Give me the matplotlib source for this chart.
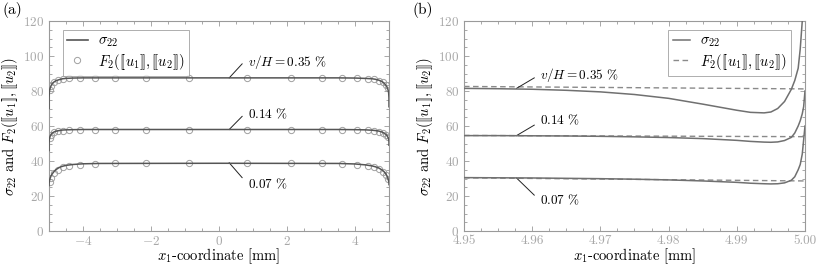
import matplotlib
matplotlib.use("Agg")
import matplotlib.pyplot as plt
from matplotlib.ticker import MultipleLocator, FormatStrFormatter
from matplotlib.lines import Line2D

plt.rcParams['font.family'] = 'serif'
plt.rcParams['font.serif'] = ['cmr10', 'DejaVu Serif']
plt.rcParams['mathtext.fontset'] = 'cm'
plt.rcParams['axes.formatter.use_mathtext'] = True

# ---------------- data panel (a) ----------------
xa = [-5, -4.999, -4.99, -4.97, -4.94, -4.9, -4.85, -4.8, -4.7, -4.6, -4.5, -4.3, -4.0, -3.5,
      0, 3.5, 4.0, 4.3, 4.5, 4.6, 4.7, 4.8, 4.85, 4.9, 4.94, 4.97, 4.99, 4.999, 5.0]
sig_a_035 = [70, 76, 79.5, 81.5, 83, 84.3, 85.2, 85.8, 86.5, 87, 87.2, 87.4, 87.5, 87.5,
             87.5, 87.5, 87.4, 87.2, 87.0, 86.7, 86.2, 85.3, 84.6, 83.5, 82.3, 80.8, 79, 76, 71]
sig_a_014 = [46, 50, 52.5, 54, 55.2, 56, 56.6, 57, 57.4, 57.7, 57.8, 57.9, 58, 58,
             58, 58, 57.9, 57.8, 57.6, 57.4, 57.1, 56.5, 56.0, 55.3, 54.5, 53.5, 52.5, 51, 49]
sig_a_007 = [26, 27, 28.5, 30, 31.5, 32.8, 34, 35, 36.3, 37, 37.5, 38, 38.4, 38.6,
             38.7, 38.6, 38.3, 37.8, 37.2, 36.7, 36.0, 34.8, 34.0, 32.8, 31.5, 30, 28.6, 27.5, 26.5]

xc = [-4.98, -4.93, -4.85, -4.74, -4.6, -4.4, -4.1, -3.66, -3.05, -2.15, -0.87,
      0.83, 2.13, 3.03, 3.63, 4.06, 4.37, 4.57, 4.72, 4.83, 4.91, 4.96]
f2_a_035 = [80.5, 83, 85, 86.2, 86.8, 87.2, 87.4, 87.5, 87.5, 87.5, 87.5,
            87.5, 87.5, 87.5, 87.4, 87.3, 87.1, 86.6, 86.0, 85.0, 83.5, 81.5]
f2_a_014 = [53, 55, 56.3, 57, 57.4, 57.7, 57.9, 58, 58, 58, 58,
            58, 58, 58, 57.9, 57.8, 57.6, 57.2, 56.7, 56.0, 55.0, 53.5]
f2_a_007 = [28, 30.5, 33, 35, 36.3, 37.2, 37.9, 38.3, 38.6, 38.7, 38.7,
            38.7, 38.7, 38.6, 38.3, 37.8, 37.2, 36.3, 35.2, 34.0, 32.0, 29.5]

# ---------------- data panel (b) ----------------
xb = [4.95, 4.955, 4.96, 4.965, 4.97, 4.975, 4.98, 4.985, 4.99, 4.992, 4.994, 4.995,
      4.996, 4.997, 4.998, 4.9985, 4.999, 4.9993, 4.9996, 4.9998, 5.0]
sig_b_035 = [81.5, 81.3, 81.0, 80.4, 79.5, 78.0, 75.8, 72.5, 69.0, 67.8, 67.5, 68.0,
             70, 74, 81, 86, 93, 104, 120, 130, 140]
sig_b_014 = [54.5, 54.5, 54.4, 54.3, 54.1, 53.8, 53.4, 52.8, 51.8, 51.2, 50.8, 50.7,
             50.9, 51.7, 53.5, 56, 60, 63, 67, 71, 80]
sig_b_007 = [30.5, 30.4, 30.3, 30.1, 29.9, 29.6, 29.2, 28.6, 27.8, 27.3, 27.0, 26.9,
             27.0, 27.5, 29.0, 31, 35, 38, 44, 52, 60]
xd = [4.95, 5.0]
f2_b_035 = [82.6, 81.2]
f2_b_014 = [54.6, 53.9]
f2_b_007 = [30.4, 28.6]

labels = [r"$v/H = 0.35$ %", r"$0.14$ %", r"$0.07$ %"]
ylabel = r"$\sigma_{22}$ and $F_2([\![u_1]\!],[\![u_2]\!])$"
leg_sig = r"$\sigma_{22}$"
leg_f2 = r"$F_2([\![u_1]\!],[\![u_2]\!])$"

tick_col = '#a8a8a8'
spine_col = '#9a9a9a'
line_col = '#555555'
line_col_b = '#707070'

fig = plt.figure(figsize=(8.17, 2.68), dpi=100)
axa = fig.add_axes([49/817, 1-231/268, 340/817, 210/268])
axb = fig.add_axes([464/817, 1-231/268, 341/817, 210/268])

def style(ax):
    for s in ax.spines.values():
        s.set_color(spine_col)
        s.set_linewidth(0.8)
    ax.tick_params(which='both', direction='in', top=True, right=True,
                   colors=spine_col, labelcolor=tick_col, labelsize=9.5, width=0.6)
    ax.tick_params(which='major', length=3.5)
    ax.tick_params(which='minor', length=2)
    ax.tick_params(axis='x', pad=3)
    ax.set_ylim(0, 120)
    ax.yaxis.set_major_locator(MultipleLocator(20))
    ax.yaxis.set_minor_locator(MultipleLocator(5))
    ax.set_ylabel(ylabel, fontsize=10.5, labelpad=2)
    ax.set_xlabel(r"$x_1$-coordinate [mm]", fontsize=10.5, labelpad=-1)

# panel (a)
style(axa)
axa.set_xlim(-5, 5)
axa.xaxis.set_major_locator(MultipleLocator(2))
axa.xaxis.set_minor_locator(MultipleLocator(0.5))
for ys, fs in [(sig_a_035, f2_a_035), (sig_a_014, f2_a_014), (sig_a_007, f2_a_007)]:
    axa.plot(xc, fs, 'o', ms=4.5, mfc='none', mec='#a0a0a0', mew=0.7, zorder=2)
    axa.plot(xa, ys, '-', color=line_col, lw=1.1, zorder=3)
axa.set_xticks([-4, -2, 0, 2, 4])
axa.set_xticklabels([r"$-4$", r"$-2$", r"$0$", r"$2$", r"$4$"])
ha = [Line2D([], [], color=line_col, lw=1.2),
      Line2D([], [], ls='none', marker='o', ms=4.5, mfc='none', mec='#a0a0a0', mew=0.7)]
la = axa.legend(ha, [leg_sig, leg_f2], loc='upper left', fontsize=10.5, frameon=True,
                fancybox=False, edgecolor=spine_col, borderaxespad=0.6, handlelength=1.4,
                borderpad=0.3, labelspacing=0.15, handletextpad=0.7,
                bbox_to_anchor=(0.015, 1.0))
la.get_frame().set_linewidth(0.7)

ann_a = [(87.5, 95.5, 96.5), (58, 65.5, 66.5), (39, 30.5, 27)]
for (y0, y1, yt), lab in zip(ann_a, labels):
    axa.plot([0.3, 0.68], [y0, y1], color='#222222', lw=0.7)
    axa.text(0.85, yt, lab, fontsize=9.5, ha='left', va='center')

fig.text(2/817, 1-10/268, "(a)", fontsize=11, ha='left', va='center')
fig.text(412/817, 1-10/268, "(b)", fontsize=11, ha='left', va='center')

# panel (b)
style(axb)
axb.set_xlim(4.95, 5.0)
axb.xaxis.set_major_locator(MultipleLocator(0.01))
axb.xaxis.set_minor_locator(MultipleLocator(0.0025))
axb.xaxis.set_major_formatter(FormatStrFormatter('%.2f'))
for ys, ds in [(sig_b_035, f2_b_035), (sig_b_014, f2_b_014), (sig_b_007, f2_b_007)]:
    axb.plot(xd, ds, '--', color='#8a8a8a', lw=1.0, dashes=(4, 2.5), zorder=2)
    axb.plot(xb, ys, '-', color=line_col_b, lw=1.1, zorder=3)
hb = [Line2D([], [], color=line_col_b, lw=1.1),
      Line2D([], [], color='#8a8a8a', lw=1.0, ls='--', dashes=(4, 2.5))]
lb = axb.legend(hb, [leg_sig, leg_f2], loc='upper right', fontsize=10.5, frameon=True,
                fancybox=False, edgecolor=spine_col, borderaxespad=0.6,
                bbox_to_anchor=(0.985, 1.0), handlelength=1.2,
                borderpad=0.3, labelspacing=0.15, handletextpad=0.7)
lb.get_frame().set_linewidth(0.7)

ann_b = [(81.5, 87.5, 89), (54.5, 60.5, 63.3), (30.3, 20.5, 17.7)]
for (y0, y1, yt), lab in zip(ann_b, labels):
    axb.plot([4.9577, 4.9603], [y0, y1], color='#222222', lw=0.7)
    axb.text(4.9612, yt, lab, fontsize=9.5, ha='left', va='center')

fig.savefig("out.png", dpi=100)
